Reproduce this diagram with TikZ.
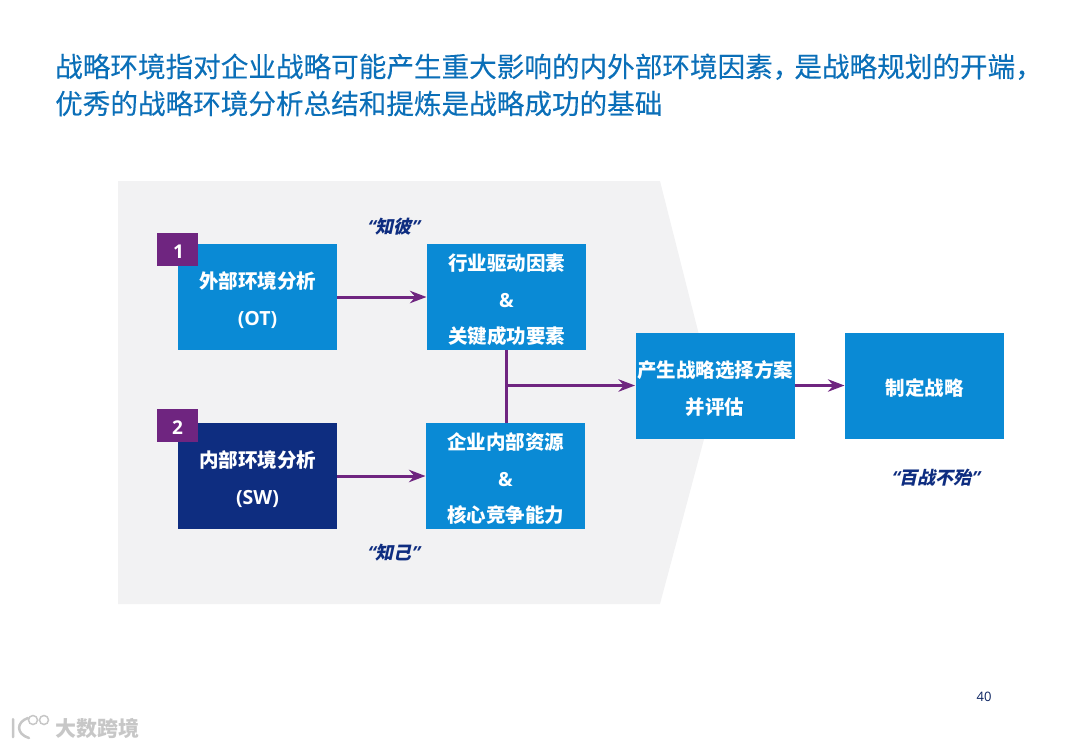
\documentclass[tikz,border=0pt]{standalone}
\usepackage{fontspec}
\setmainfont{Open Sans}
\newfontfamily\cjk{Noto Sans CJK SC}
\newfontfamily\cjkhead[FakeBold=0.2]{Noto Sans CJK SC}
\newfontfamily\cjkslant[FakeSlant=0.22]{Noto Sans CJK SC}
\newfontfamily\latinslant[FakeSlant=0.22]{Open Sans}
\usepackage{tikz}
\usetikzlibrary{
    arrows.meta,
    positioning
}
\definecolor{titleblue}{HTML}{0B6FB8}
\definecolor{boxblue}{HTML}{0A8AD5}
\definecolor{boxnavy}{HTML}{0E2D80}
\definecolor{linkpurple}{HTML}{6F2580}
\definecolor{panelgray}{HTML}{F2F2F3}
\newcommand{\saytext}[1]{{\latinslant “}#1{\latinslant ”}}
\newcommand{\boxtop}{\rule{0pt}{22.7pt}}
\newcommand{\boxlatin}[1]{{\normalfont\bfseries #1}}

\begin{document}
\begin{tikzpicture}[
    x=1pt, y=-1pt,
    >=Stealth,
    stepbox/.style={fill=boxblue, text=white, minimum width=159pt, minimum height=106pt,
        inner sep=0pt, outer sep=0pt, align=center,
        font=\cjk\bfseries\fontsize{19.5}{36.5}\selectfont},
    navybox/.style={stepbox, fill=boxnavy},
    numbox/.style={fill=linkpurple, text=white, minimum width=41pt, minimum height=33pt,
        inner sep=0pt, outer sep=0pt, execute at begin node={\rule{0pt}{18pt}},
        font=\bfseries\fontsize{19}{22}\selectfont},
    link/.style={->, line width=3pt, linkpurple, shorten >=0.5pt},
    saying/.style={text=boxnavy, inner sep=0pt, font=\cjkslant\bfseries\fontsize{18}{20}\selectfont}
]
\useasboundingbox (0,0) rectangle (1080,748);

% Heading
\node[anchor=west, inner sep=0pt, text=titleblue, align=left,
    font=\cjkhead\fontsize{27.6}{37}\selectfont] (heading) at (55,85)
    {战略环境指对企业战略可能产生重大影响的内外部环境因素，\hspace{-6pt}是战略规划的开端，\\
     优秀的战略环境分析总结和提炼是战略成功的基础};

% Gray panel
\fill[panelgray] (118,181) -- (660,181) -- (715,398) -- (660,604) -- (118,604) -- cycle;

% Boxes
\node[stepbox] (outer) at (257.5,297) {\boxtop 外部环境分析\\\boxlatin{(OT)}};
\node[navybox] (inner) at (257.5,476) {\boxtop 内部环境分析\\\boxlatin{(SW)}};
\node[stepbox] (drivers) at (506.5,297) {\boxtop 行业驱动因素\\\boxlatin{\&}\\关键成功要素};
\node[stepbox] (resources) at (505.5,476) {\boxtop 企业内部资源\\\boxlatin{\&}\\核心竞争能力};
\node[stepbox] (options) at (715,385.5) {\boxtop 产生战略选择方案\\并评估};
\node[stepbox] (strategy) at (924.5,385.5) {\boxtop 制定战略};

% Number tags
\node[numbox] (tagone) at (177.5,249.5) {\hspace{2pt}1};
\node[numbox] (tagtwo) at (177.5,425.5) {2};

% Connectors
\coordinate (joint) at (drivers.south |- options.west);
\draw[link] (outer) -- (drivers);
\draw[link] (inner) -- (resources);
\draw[line width=3pt, linkpurple] (drivers.south) -- (drivers.south |- resources.north);
\draw[link] (joint) -- (options);
\draw[link] (options) -- (strategy);

% Sayings
\node[saying] (know) at (393,227) {\saytext{知彼}};
\node[saying] (self) at (393,553) {\saytext{知己}};
\node[saying] (win) at (935,478) {\saytext{百战不殆}};

% Page number and mark
\node[text=boxnavy!75!black, font=\fontsize{13}{15}\selectfont] (page) at (984,697) {40};
\node[anchor=west, inner sep=0pt, text=black!22, font=\cjk\bfseries\fontsize{21}{24}\selectfont] (mark) at (55,728) {大数跨境};
\draw[black!22, line width=2.5pt, line cap=round] (13,719) -- (13,737)
    (28,718) .. controls (16,722) and (16,734) .. (29,738);
\draw[black!22, line width=1.5pt] (33,720) circle (4.5) (44,720) circle (4.5);
\end{tikzpicture}
\end{document}
